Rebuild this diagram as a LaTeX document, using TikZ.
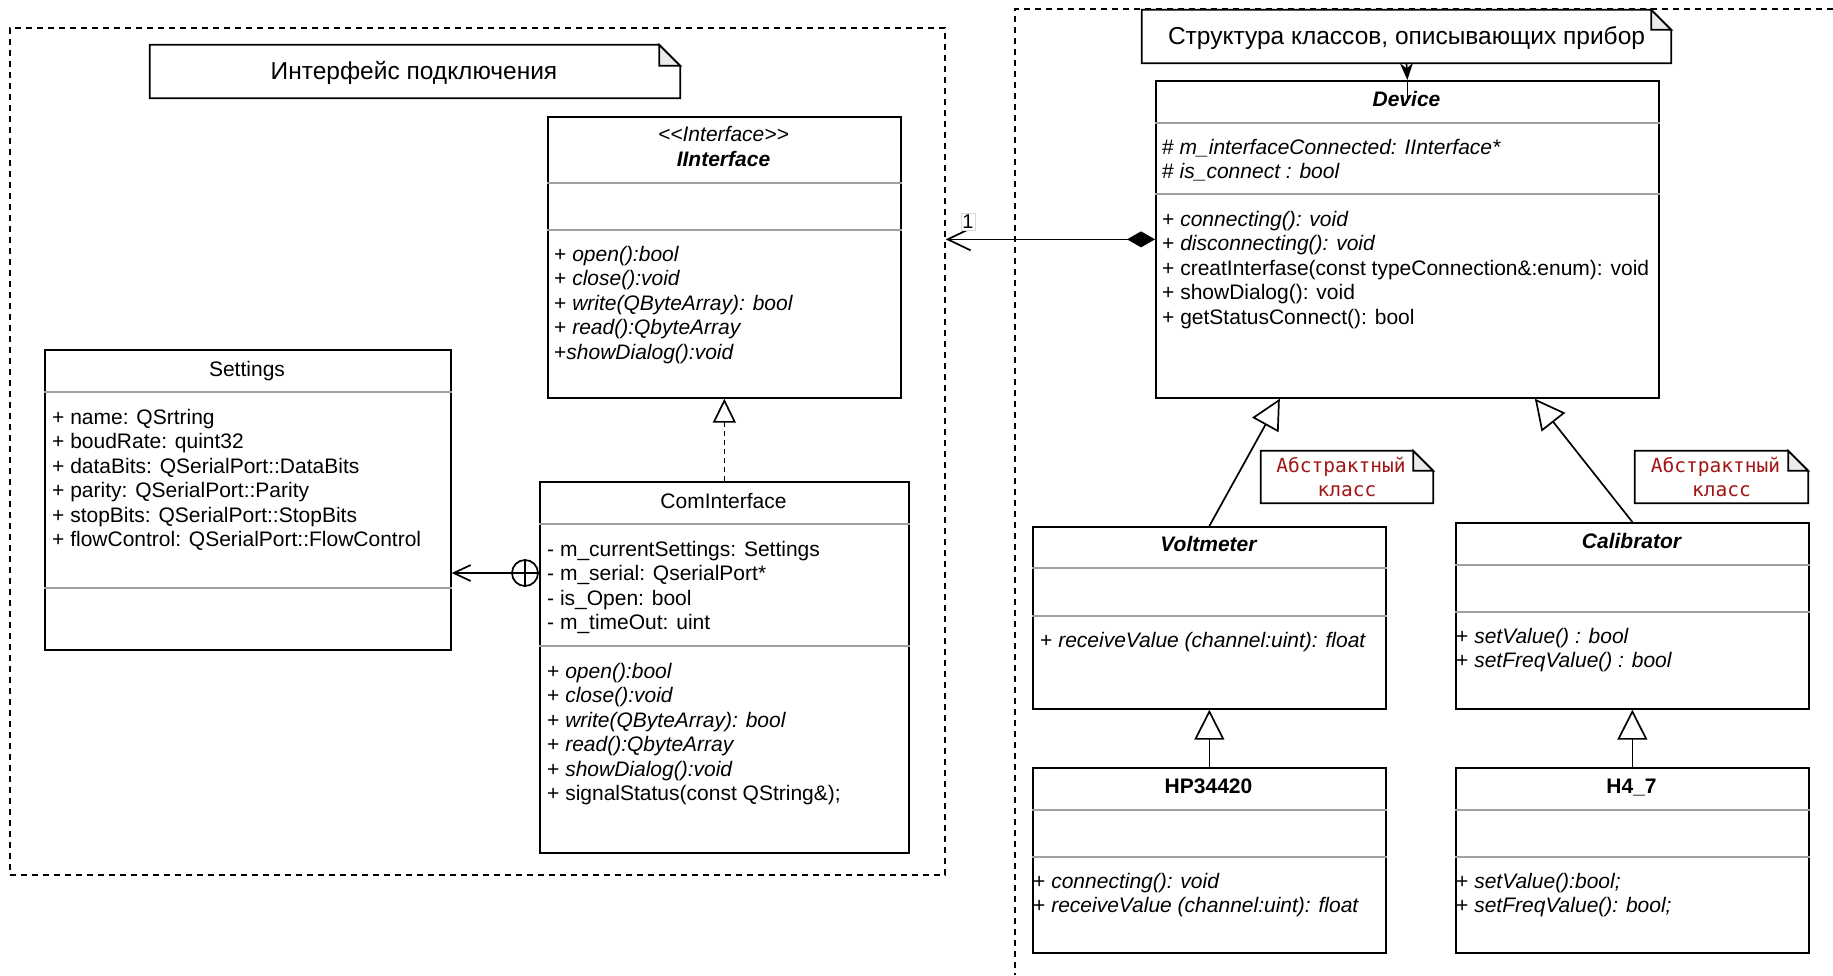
\documentclass[tikz,border=0pt]{standalone}
\usepackage{fontspec}
\setmainfont{Liberation Sans}
\newfontfamily\monof{DejaVu Sans Mono}
\usetikzlibrary{arrows.meta}
\definecolor{divgray}{RGB}{160,160,160}
\definecolor{noteRed}{RGB}{163,21,21}
\definecolor{foldgray}{RGB}{235,235,235}
\newcommand\fs{\fontsize{21}{24.5}\selectfont}
\newcommand\hdiv[2]{\draw[div] ([yshift=-#2pt]#1.north west) -- ([yshift=-#2pt]#1.north east);}
\newcommand\notefold[2]{%
  \draw[line width=1.7, fill=white] (#1.north west) -- ([xshift=-#2pt]#1.north east) -- ([yshift=-#2pt]#1.north east) -- (#1.south east) -- (#1.south west) -- cycle;
  \draw[line width=1.7, fill=foldgray] ([xshift=-#2pt]#1.north east) -- ([xshift=-#2pt,yshift=-#2pt]#1.north east) -- ([yshift=-#2pt]#1.north east) -- cycle;}
\begin{document}
\begin{tikzpicture}[x=1pt,y=-1pt,
  cls/.style={draw, line width=1.7, inner sep=0, anchor=north west},
  div/.style={draw=divgray, line width=1.8},
  ln/.style={anchor=base west, inner sep=0, font=\fs},
  ttl/.style={anchor=base, inner sep=0, font=\fs},
  grp/.style={draw, line width=1.7, dash pattern=on 6pt off 5pt},
  notebox/.style={inner sep=0, font=\fontsize{24.5}{28}\selectfont},
  absnote/.style={inner sep=0, font=\monof\fontsize{19.5}{24}\selectfont, text=noteRed},
  gen/.style={line width=1.7, -{Triangle[open, length=30pt, width=30pt]}},
  real/.style={line width=1.7, dash pattern=on 5pt off 4pt, -{Triangle[open, length=24pt, width=23pt]}},
  openarr/.style={line width=1.7, -{Straight Barb[length=17pt, width=16pt]}},
]
\useasboundingbox (0,0) rectangle (1833,975);

% groups
\node[grp, inner sep=0, minimum width=935pt, minimum height=847pt, anchor=north west] (lgrp) at (9,27) {};
\draw[grp] (1833,9) -- (1015,9) -- (1015,975);

% notes
\node[notebox, minimum width=530pt, minimum height=53pt] (noteL) at (415,71.5) {};
\notefold{noteL}{21}
\node[notebox] (noteLt) at (414,72.5) {Интерфейс подключения};

\node[notebox, minimum width=529pt, minimum height=53pt] (noteR) at (1406.5,36.5) {};
\notefold{noteR}{20}
\node[notebox] (noteRt) at (1406.5,38) {Структура классов, описывающих прибор};

\node[inner sep=0, minimum width=172pt, minimum height=52pt] (abs1) at (1347,477) {};
\notefold{abs1}{20}
\node[absnote, anchor=base] (abs1a) at (1341,472.5) {Абстрактный};
\node[absnote, anchor=base] (abs1b) at (1347,496.5) {класс};

\node[inner sep=0, minimum width=173pt, minimum height=52pt] (abs2) at (1721.5,477) {};
\notefold{abs2}{20}
\node[absnote, anchor=base] (abs2a) at (1715.5,472.5) {Абстрактный};
\node[absnote, anchor=base] (abs2b) at (1721.5,496.5) {класс};

% IInterface
\node[cls, minimum width=353pt, minimum height=281pt] (iif) at (547,116) {};
\hdiv{iif}{67}\hdiv{iif}{114}
\node[ttl, font=\fs\itshape] (iifst) at (723.5,141) {<\kern0pt<Interface>\kern0pt>};
\node[ttl, font=\fs\bfseries\itshape] (iifnm) at (723.5,166) {IInterface};
\node[ln] (iif1) at (554,261) {+ \textit{open():bool}};
\node[ln] (iif2) at (554,285.5) {+ \textit{close():void}};
\node[ln] (iif3) at (554,310) {+ \textit{write(QByteArray): bool}};
\node[ln] (iif4) at (554,334.5) {+ \textit{read():QbyteArray}};
\node[ln] (iif5) at (554,359) {+\textit{showDialog():void}};

% Settings
\node[cls, minimum width=406pt, minimum height=300pt] (set) at (44,349) {};
\hdiv{set}{43}\hdiv{set}{239}
\node[ttl] (setnm) at (247,376) {Settings};
\node[ln] (set1) at (52,424) {+ name: QSrtring};
\node[ln] (set2) at (52,448.5) {+ boudRate: quint32};
\node[ln] (set3) at (52,473) {+ dataBits: QSerialPort::DataBits};
\node[ln] (set4) at (52,497.5) {+ parity: QSerialPort::Parity};
\node[ln] (set5) at (52,522) {+ stopBits: QSerialPort::StopBits};
\node[ln] (set6) at (52,546.5) {+ flowControl: QSerialPort::FlowControl};

% ComInterface
\node[cls, minimum width=369pt, minimum height=371pt] (com) at (539,481) {};
\hdiv{com}{43}\hdiv{com}{165}
\node[ttl] (comnm) at (723.5,508) {ComInterface};
\node[ln] (com1) at (547,556) {- m\_currentSettings: Settings};
\node[ln] (com2) at (547,580.5) {- m\_serial: QserialPort*};
\node[ln] (com3) at (547,605) {- is\_Open: bool};
\node[ln] (com4) at (547,629.5) {- m\_timeOut: uint};
\node[ln] (com5) at (547,678) {+ \textit{open():bool}};
\node[ln] (com6) at (547,702.5) {+ \textit{close():void}};
\node[ln] (com7) at (547,727) {+ \textit{write(QByteArray): bool}};
\node[ln] (com8) at (547,751.5) {+ \textit{read():QbyteArray}};
\node[ln] (com9) at (547,776) {+ \textit{showDialog():void}};
\node[ln] (com10) at (547,800.5) {+ signalStatus(const QString\&);};

% Device
\node[cls, minimum width=503pt, minimum height=317pt] (dev) at (1155,80) {};
\hdiv{dev}{43}\hdiv{dev}{114}
\node[ttl, font=\fs\bfseries\itshape] (devnm) at (1406.5,106) {Device};
\node[ln] (dev1) at (1162,154) {\# \textit{m\_interfaceConnected: IInterface*}};
\node[ln] (dev2) at (1162,178.5) {\# \textit{is\_connect : bool}};
\node[ln] (dev3) at (1162,226) {+ \textit{connecting(): void}};
\node[ln] (dev4) at (1162,250.5) {+ \textit{disconnecting(): void}};
\node[ln] (dev5) at (1162,275) {+ creatInterfase(const typeConnection\&:enum): void};
\node[ln] (dev6) at (1162,299.5) {+ showDialog(): void};
\node[ln] (dev7) at (1162,324) {+ getStatusConnect(): bool};

% Voltmeter
\node[cls, minimum width=353pt, minimum height=182pt] (volt) at (1032,526) {};
\hdiv{volt}{42}\hdiv{volt}{90}
\node[ttl, font=\fs\bfseries\itshape] (voltnm) at (1208.5,551) {Voltmeter};
\node[ln] (volt1) at (1040,647) {+ \textit{receiveValue (channel:uint): float}};

% Calibrator
\node[cls, minimum width=353pt, minimum height=186pt] (cal) at (1455,522) {};
\hdiv{cal}{43}\hdiv{cal}{90}
\node[ttl, font=\fs\bfseries\itshape] (calnm) at (1631.5,548) {Calibrator};
\node[ln] (cal1) at (1456,643) {+ \textit{setValue() : bool}};
\node[ln] (cal2) at (1456,667.5) {+ \textit{setFreqValue() : bool}};

% HP34420
\node[cls, minimum width=353pt, minimum height=185pt] (hp) at (1032,767) {};
\hdiv{hp}{43}\hdiv{hp}{90}
\node[ttl, font=\fs\bfseries] (hpnm) at (1208.5,793) {HP34420};
\node[ln] (hp1) at (1033,888) {+ \textit{connecting(): void}};
\node[ln] (hp2) at (1033,912.5) {+ \textit{receiveValue (channel:uint): float}};

% H4_7
\node[cls, minimum width=353pt, minimum height=185pt] (hf) at (1455,767) {};
\hdiv{hf}{43}\hdiv{hf}{90}
\node[ttl, font=\fs\bfseries] (hfnm) at (1631.5,793) {H4\_7};
\node[ln] (hf1) at (1456,888) {+ \textit{setValue():bool;}};
\node[ln] (hf2) at (1456,912.5) {+ \textit{setFreqValue(): bool;}};

% connectors
\draw[real] (com.north) -- (iif.south);
\node[circle, draw, line width=1.7, minimum size=26pt, inner sep=0] (cp) at (525,573) {};
\draw[line width=1.7] (cp.north) -- (cp.south) (cp.west) -- (cp.east);
\draw[openarr] (cp.west) -- (cp.west -| set.east);

\draw[line width=1.7, {Diamond[length=28pt, width=16pt]}-{Straight Barb[length=23pt, width=22pt]}] (dev.west) -- (dev.west -| lgrp.east);
\node[draw=gray!30, line width=0.6, fill=white, font=\fontsize{20}{20}\selectfont, inner sep=1.5pt] (one) at (968,222) {1};

\draw[line width=1.7, -{Stealth[length=17pt, width=13pt]}] (noteR.south) -- (dev.north);
\draw[line width=1.7] (dev.north) -- ([yshift=-23pt]dev.north);

\draw[gen] (volt.north) -- ([xshift=-127.5pt]dev.south);
\draw[gen] (cal.north) -- ([xshift=127.5pt]dev.south);
\draw[gen] (hp.north) -- (volt.south);
\draw[gen] (hf.north) -- (cal.south);
\end{tikzpicture}
\end{document}
